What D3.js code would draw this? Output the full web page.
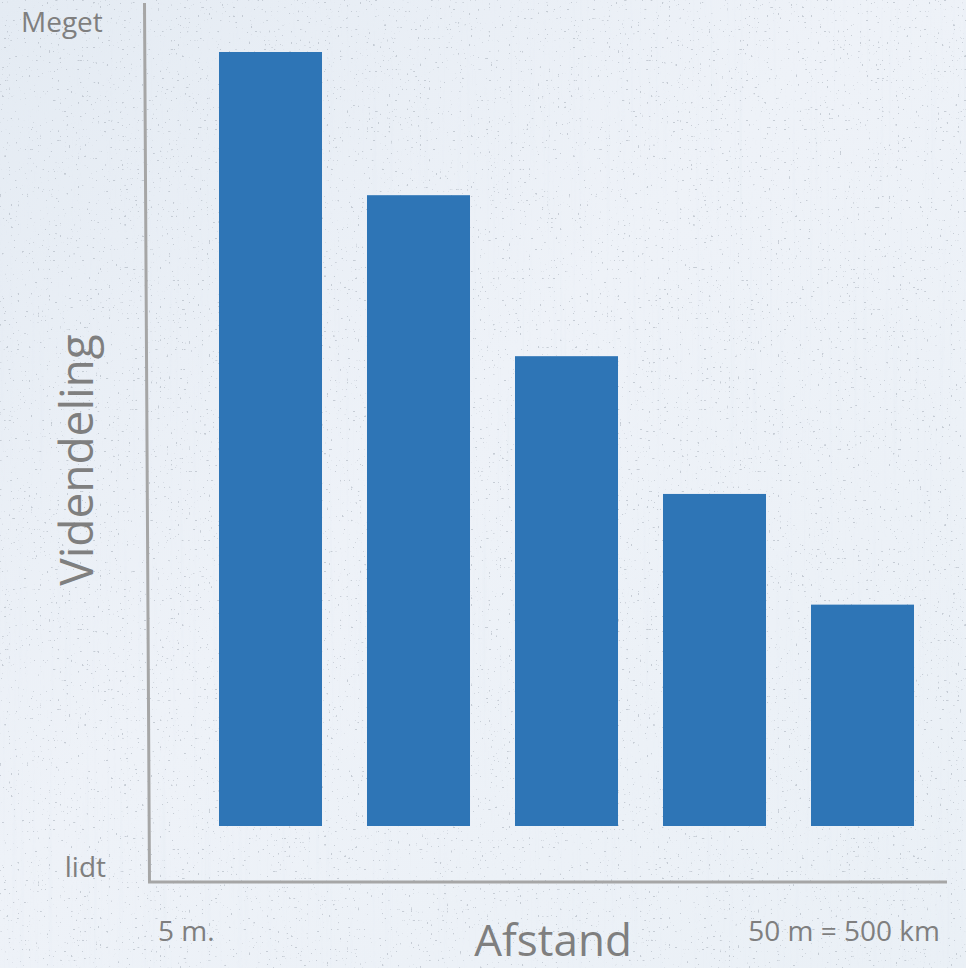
<!DOCTYPE html>
<html>
<head>
<meta charset="utf-8">
<script src="https://cdn.jsdelivr.net/npm/d3@7/dist/d3.min.js"></script>
<style>
  html, body { margin: 0; padding: 0; background: #e9eff5; }
  svg { display: block; }
  text { font-family: "Open Sans", "Noto Sans", sans-serif; fill: #7f7f7f; }
</style>
</head>
<body>
<div id="chart"></div>
<script>
// Knowledge sharing (Videndeling) falls off with distance (Afstand)
const categories = ["1", "2", "3", "4", "5"];
const values = [100, 81.5, 60.7, 42.9, 28.6];
const yEndLabels = ["lidt", "Meget"];
const xEndLabels = ["5 m.", "50 m = 500 km"];
const xTitle = "Afstand";
const yTitle = "Videndeling";

const W = 966, H = 968;
const svg = d3.select("#chart").append("svg")
  .attr("width", W).attr("height", H);

// concrete-like backdrop
const defs = svg.append("defs");
const grad = defs.append("linearGradient").attr("id", "bg").attr("x1", 0).attr("y1", 0).attr("x2", 1).attr("y2", 1);
grad.append("stop").attr("offset", 0).attr("stop-color", "#e4ebf3");
grad.append("stop").attr("offset", 0.45).attr("stop-color", "#eef2f8");
grad.append("stop").attr("offset", 1).attr("stop-color", "#eaf0f6");

// sparse dark specks: only the highest noise peaks become visible
const speck = defs.append("filter").attr("id", "speck")
  .attr("x", 0).attr("y", 0).attr("width", "100%").attr("height", "100%");
speck.append("feTurbulence").attr("type", "fractalNoise")
  .attr("baseFrequency", "0.45").attr("numOctaves", 1).attr("seed", 11).attr("result", "n");
speck.append("feColorMatrix").attr("in", "n").attr("type", "matrix")
  .attr("values", "0 0 0 0 0.42  0 0 0 0 0.46  0 0 0 0 0.52  22 0 0 0 -15.4");

// faint vertical streaks
const streak = defs.append("filter").attr("id", "streak")
  .attr("x", 0).attr("y", 0).attr("width", "100%").attr("height", "100%");
streak.append("feTurbulence").attr("type", "fractalNoise")
  .attr("baseFrequency", "0.3 0.004").attr("numOctaves", 2).attr("seed", 3).attr("result", "n");
streak.append("feColorMatrix").attr("in", "n").attr("type", "matrix")
  .attr("values", "0 0 0 0 0.78  0 0 0 0 0.83  0 0 0 0 0.9  4 0 0 0 -2.2");

svg.append("rect").attr("width", W).attr("height", H).attr("fill", "url(#bg)");
svg.append("rect").attr("width", W).attr("height", H).attr("filter", "url(#streak)").attr("opacity", 0.25);
svg.append("rect").attr("width", W).attr("height", H).attr("filter", "url(#speck)").attr("opacity", 0.6);

// scales
const x = d3.scaleBand().domain(categories).range([196.5, 936.5])
  .paddingInner(0.304).paddingOuter(0.152);
const y = d3.scaleLinear().domain([0, 100]).range([826, 52]);

// bars
svg.append("g").selectAll("rect").data(values).join("rect")
  .attr("x", (d, i) => x(categories[i]))
  .attr("y", d => y(d))
  .attr("width", x.bandwidth())
  .attr("height", d => y(0) - y(d))
  .attr("fill", "#2e75b6");

// axes (hand-drawn style L shape)
const axisPts = [[144.5, 3], [149.5, 882], [947, 882]];
svg.append("path")
  .attr("d", d3.line()(axisPts))
  .attr("fill", "none")
  .attr("stroke", "#a6a6a6")
  .attr("stroke-width", 3)
  .attr("stroke-linejoin", "miter");

// end labels
svg.append("text").attr("x", 21).attr("y", 32).attr("font-size", 28).text(yEndLabels[1]);
svg.append("text").attr("x", 106).attr("y", 877).attr("text-anchor", "end").attr("font-size", 28).text(yEndLabels[0]);
svg.append("text").attr("x", 158).attr("y", 941).attr("font-size", 28).text(xEndLabels[0]);
svg.append("text").attr("x", 940).attr("y", 941).attr("text-anchor", "end").attr("font-size", 28).text(xEndLabels[1]);

// titles
svg.append("text").attr("x", 553).attr("y", 956).attr("text-anchor", "middle").attr("font-size", 44).text(xTitle);
svg.append("text").attr("transform", "translate(93,460) rotate(-90)")
  .attr("text-anchor", "middle").attr("font-size", 46).text(yTitle);
</script>
</body>
</html>
